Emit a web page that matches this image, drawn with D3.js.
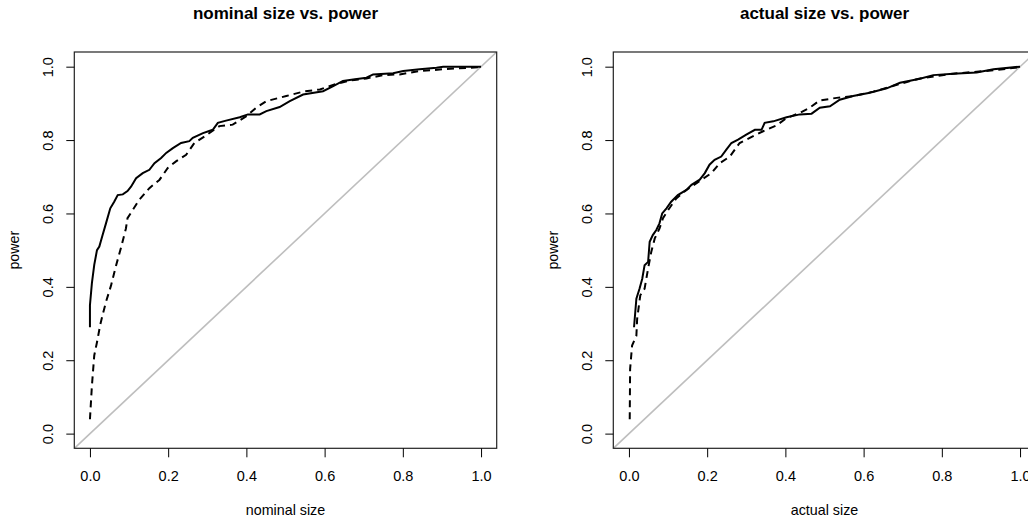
<!DOCTYPE html>
<html>
<head>
<meta charset="utf-8">
<script src="https://cdn.jsdelivr.net/npm/d3@7"></script>
<style>
  body { margin: 0; background: #fff; }
  svg { display: block; font-family: "Liberation Sans", Arial, sans-serif; }
</style>
</head>
<body>
<div id="graf"></div>
<script>
// Datos (tamaño vs. potencia)
ticks = [0, 0.2, 0.4, 0.6, 0.8, 1.0]

// panel izquierdo: tamaño nominal
nomSolidX = [0, 0, 0.005, 0.011, 0.018, 0.024, 0.032, 0.041, 0.052, 0.062, 0.071, 0.084, 0.096, 0.105, 0.118, 0.135, 0.152, 0.165, 0.182, 0.195, 0.212, 0.233, 0.254, 0.263, 0.289, 0.314, 0.327, 0.348, 0.383, 0.404, 0.434, 0.451, 0.485, 0.511, 0.545, 0.596, 0.622, 0.647, 0.673, 0.707, 0.724, 0.775, 0.801, 0.843, 0.886, 0.903, 1.0]
nomSolidY = [0.29, 0.35, 0.41, 0.46, 0.50, 0.51, 0.54, 0.573, 0.614, 0.632, 0.65, 0.652, 0.661, 0.673, 0.696, 0.71, 0.719, 0.737, 0.751, 0.765, 0.778, 0.792, 0.797, 0.806, 0.819, 0.828, 0.847, 0.853, 0.862, 0.87, 0.87, 0.879, 0.89, 0.906, 0.924, 0.933, 0.947, 0.961, 0.965, 0.97, 0.979, 0.982, 0.988, 0.993, 0.997, 1.0, 1.0]
nomDashX = [0, 0.005, 0.011, 0.018, 0.026, 0.032, 0.041, 0.054, 0.067, 0.079, 0.092, 0.096, 0.109, 0.126, 0.152, 0.178, 0.199, 0.22, 0.246, 0.267, 0.293, 0.331, 0.365, 0.4, 0.425, 0.451, 0.502, 0.545, 0.588, 0.63, 0.664, 0.707, 0.75, 0.792, 0.843, 0.903, 1.0]
nomDashY = [0.039, 0.13, 0.213, 0.249, 0.295, 0.322, 0.359, 0.404, 0.459, 0.505, 0.559, 0.587, 0.609, 0.637, 0.669, 0.692, 0.724, 0.742, 0.76, 0.792, 0.81, 0.838, 0.842, 0.865, 0.888, 0.906, 0.92, 0.932, 0.938, 0.953, 0.962, 0.968, 0.977, 0.979, 0.988, 0.993, 0.999]

// panel derecho: tamaño real
actSolidX = [0.013, 0.019, 0.027, 0.034, 0.04, 0.049, 0.053, 0.061, 0.07, 0.078, 0.085, 0.096, 0.108, 0.125, 0.147, 0.16, 0.181, 0.194, 0.206, 0.219, 0.236, 0.249, 0.262, 0.279, 0.3, 0.322, 0.339, 0.347, 0.369, 0.403, 0.437, 0.467, 0.488, 0.514, 0.539, 0.573, 0.616, 0.659, 0.693, 0.744, 0.778, 0.829, 0.889, 0.932, 1.0]
actSolidY = [0.29, 0.368, 0.395, 0.422, 0.459, 0.468, 0.523, 0.541, 0.555, 0.573, 0.6, 0.614, 0.632, 0.65, 0.664, 0.678, 0.692, 0.71, 0.733, 0.746, 0.755, 0.774, 0.792, 0.801, 0.815, 0.828, 0.828, 0.847, 0.851, 0.862, 0.87, 0.872, 0.888, 0.892, 0.91, 0.92, 0.929, 0.941, 0.956, 0.967, 0.977, 0.981, 0.984, 0.993, 1.0]
actDashX = [0.002, 0.003, 0.008, 0.019, 0.021, 0.029, 0.04, 0.049, 0.057, 0.066, 0.078, 0.087, 0.1, 0.121, 0.147, 0.172, 0.211, 0.232, 0.258, 0.283, 0.309, 0.343, 0.377, 0.403, 0.437, 0.462, 0.488, 0.531, 0.573, 0.625, 0.693, 0.744, 0.829, 0.932, 1.0]
actDashY = [0.039, 0.176, 0.24, 0.267, 0.313, 0.377, 0.395, 0.45, 0.495, 0.532, 0.559, 0.587, 0.609, 0.641, 0.664, 0.682, 0.71, 0.737, 0.755, 0.792, 0.806, 0.824, 0.84, 0.86, 0.874, 0.888, 0.908, 0.915, 0.92, 0.932, 0.953, 0.968, 0.981, 0.99, 0.999]

paneles = [
  { titulo: 'nominal size vs. power', xlab: 'nominal size', left: 74.3,
    solidX: nomSolidX, solidY: nomSolidY, dashX: nomDashX, dashY: nomDashY },
  { titulo: 'actual size vs. power', xlab: 'actual size', left: 613.3,
    solidX: actSolidX, solidY: actSolidY, dashX: actDashX, dashY: actDashY }
]

ancho_total = 1028
alto_total = 526
margen_sup = 52
ancho = 422.4
alto = 396.3

svg = d3.select('#graf').append('svg')
  .attr('width', ancho_total)
  .attr('height', alto_total)

svg.append('rect').attr('width', ancho_total).attr('height', alto_total).attr('fill', '#fff')

paneles.forEach((p, i) => {
  const g = svg.append('g').attr('transform', `translate(${p.left}, ${margen_sup})`)

  // R extiende el rango un 4% por cada lado
  const x = d3.scaleLinear().domain([-0.04, 1.04]).range([0, ancho])
  const y = d3.scaleLinear().domain([-0.04, 1.04]).range([alto, 0])

  g.append('clipPath').attr('id', 'clip' + i)
    .append('rect').attr('width', ancho).attr('height', alto)

  const plot = g.append('g').attr('clip-path', `url(#clip${i})`)

  // diagonal gris
  plot.append('line')
    .attr('x1', x(-0.04)).attr('y1', y(-0.04))
    .attr('x2', x(1.04)).attr('y2', y(1.04))
    .attr('stroke', '#bebebe')
    .attr('stroke-width', 1.6)

  const linea = d3.line().x(d => x(d[0])).y(d => y(d[1]))

  plot.append('path')
    .attr('d', linea(d3.zip(p.dashX, p.dashY)))
    .attr('fill', 'none')
    .attr('stroke', '#000')
    .attr('stroke-width', 2)
    .attr('stroke-dasharray', '7,5')

  plot.append('path')
    .attr('d', linea(d3.zip(p.solidX, p.solidY)))
    .attr('fill', 'none')
    .attr('stroke', '#000')
    .attr('stroke-width', 2)

  // caja
  g.append('rect')
    .attr('width', ancho).attr('height', alto)
    .attr('fill', 'none').attr('stroke', '#222').attr('stroke-width', 1.2)

  // ejes
  const xAxis = g.append('g')
    .attr('transform', `translate(0, ${alto})`)
    .call(d3.axisBottom(x).tickValues(ticks).tickFormat(d3.format('.1f')).tickSize(9).tickPadding(13))
  xAxis.select('.domain').remove()
  xAxis.selectAll('text').attr('font-size', '14.5px').attr('fill', '#000').attr('font-family', null)

  const yAxis = g.append('g')
    .call(d3.axisLeft(y).tickValues(ticks).tickFormat(d3.format('.1f')).tickSize(8))
  yAxis.select('.domain').remove()
  yAxis.selectAll('text')
    .attr('font-size', '14.5px').attr('fill', '#000').attr('font-family', null)
    .attr('x', null).attr('dy', null)
    .attr('text-anchor', 'middle')
    .attr('transform', 'translate(-21, 0) rotate(-90)')
  yAxis.selectAll('line').attr('stroke', '#000')
  xAxis.selectAll('line').attr('stroke', '#000')

  // títulos
  g.append('text')
    .attr('x', ancho / 2).attr('y', 18.5 - margen_sup)
    .attr('text-anchor', 'middle')
    .attr('font-weight', 'bold')
    .attr('font-size', '17px')
    .text(p.titulo)

  g.append('text')
    .attr('x', ancho / 2).attr('y', 515 - margen_sup)
    .attr('text-anchor', 'middle')
    .attr('font-size', '14.3px')
    .text(p.xlab)

  g.append('text')
    .attr('transform', `translate(${19 - 74.3}, ${alto / 2}) rotate(-90)`)
    .attr('text-anchor', 'middle')
    .attr('font-size', '14.3px')
    .text('power')
})
</script>
</body>
</html>
